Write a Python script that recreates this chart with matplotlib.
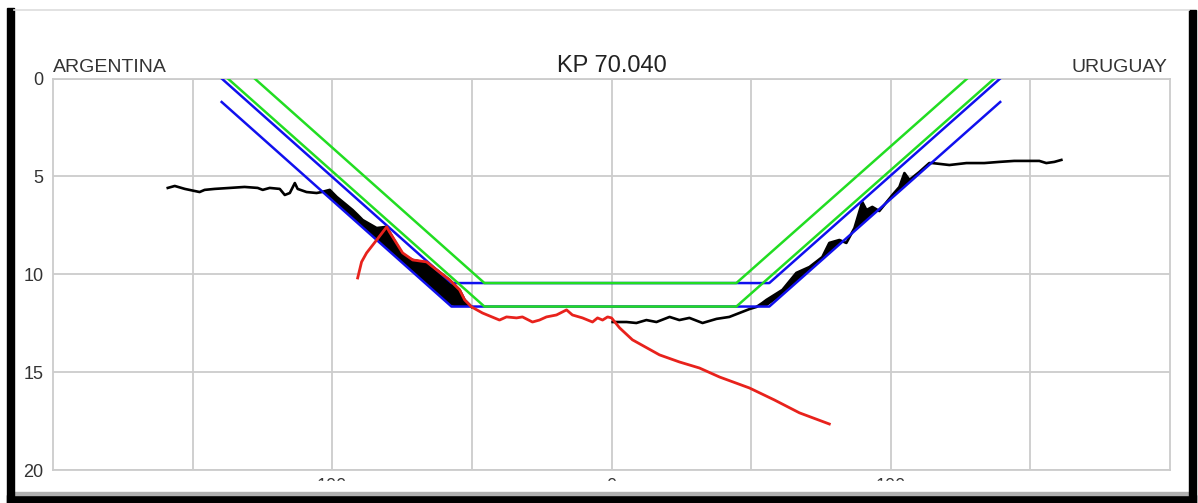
import numpy as np
import matplotlib
matplotlib.use("Agg")
import matplotlib.pyplot as plt
from matplotlib.patches import Rectangle
from matplotlib.lines import Line2D

# design trench lines (offset in m, depth in m)
blue_x = [-139.6, -57.3, 56.5, 139.2]
blue_upper_d = [0.0, 10.45, 10.45, 0.0]
blue_lower_d = [1.2, 11.65, 11.65, 1.2]
green_outer_x = [-137.4, -45.5, 44.7, 137.1]
green_outer_d = [0.0, 11.65, 11.65, 0.0]
green_inner_x = [-127.8, -45.5, 44.7, 127.4]
green_inner_d = [0.0, 10.45, 10.45, 0.0]

# current survey (black), left bank down to trench floor
black_left_x = [-158.9, -156.4, -152.8, -147.5, -145.7, -142.1, -136.7, -131.4, -126.7,
                -124.9, -122.4, -118.8, -117.0, -115.2, -113.4, -112.4, -109.2, -105.6,
                -103.8, -100.9, -98.4, -94.9, -92.7, -90.9, -89.1, -84.1, -80.5, -79.5,
                -74.8, -71.2, -66.2, -62.6, -58.0, -54.4, -52.6, -50.1]
black_left_d = [5.59, 5.49, 5.64, 5.80, 5.69, 5.64, 5.59, 5.54, 5.59,
                5.69, 5.59, 5.64, 5.95, 5.85, 5.34, 5.64, 5.80, 5.85,
                5.80, 5.69, 6.05, 6.46, 6.72, 6.97, 7.23, 7.64, 7.58, 7.84,
                9.01, 9.27, 9.42, 9.78, 10.29, 10.80, 11.31, 11.67]

# current survey (black), trench floor to right bank
black_right_x = [0.4, 5.4, 8.9, 12.5, 16.1, 20.8, 24.3, 27.9, 32.6, 37.6, 42.2, 45.8,
                 49.4, 51.9, 54.0, 55.5, 61.2, 66.2, 70.9, 75.5, 78.0, 81.6, 84.1, 87.0,
                 89.8, 91.3, 93.4, 95.9, 100.6, 103.1, 104.9, 106.7, 110.2, 113.8, 114.9,
                 121.0, 127.1, 133.5, 138.9, 144.2, 149.6, 153.2, 155.7, 158.6, 161.1]
black_right_d = [12.44, 12.44, 12.49, 12.34, 12.44, 12.18, 12.34, 12.23, 12.49, 12.28,
                 12.18, 11.98, 11.78, 11.67, 11.47, 11.31, 10.80, 9.93, 9.63, 9.12, 8.40,
                 8.25, 8.40, 7.64, 6.31, 6.72, 6.56, 6.77, 5.95, 5.54, 4.83, 5.18, 4.78,
                 4.32, 4.32, 4.42, 4.32, 4.32, 4.26, 4.21, 4.21, 4.21, 4.32, 4.26, 4.16]

# previous survey (red)
red_x = [-90.9, -89.5, -87.7, -84.1, -80.5, -79.5, -74.8, -71.2, -66.2, -62.6, -58.0,
         -54.4, -52.6, -50.1, -46.2, -40.1, -37.6, -34.0, -31.9, -28.3, -25.8, -23.3,
         -19.7, -16.1, -14.0, -10.4, -6.8, -5.0, -3.2, -1.4, 0.0, 2.9, 7.5, 17.2, 24.3,
         31.5, 38.7, 49.4, 58.3, 67.3, 78.0]
red_d = [10.19, 9.37, 8.91, 8.25, 7.58, 7.84, 8.91, 9.27, 9.37, 9.78, 10.29,
         10.80, 11.31, 11.67, 11.98, 12.34, 12.18, 12.23, 12.18, 12.44, 12.34, 12.18,
         12.08, 11.82, 12.08, 12.23, 12.44, 12.23, 12.34, 12.18, 12.23, 12.74, 13.35,
         14.12, 14.48, 14.79, 15.25, 15.81, 16.42, 17.08, 17.65]

title = "KP 70.040"
left_label = "ARGENTINA"
right_label = "URUGUAY"
x_ticks = [-150, -100, -50, 0, 50, 100, 150]
x_labelled = [-100, 0, 100]
y_ticks = [0, 5, 10, 15, 20]

W, H = 1198, 503
fig = plt.figure(figsize=(W / 100, H / 100), dpi=100)
fig.patch.set_facecolor("white")
ax = fig.add_axes([53 / W, 1 - 470 / H, (1170 - 53) / W, (470 - 78.5) / H])

ax.set_xlim(-200, 200)
ax.set_ylim(20, 0)

# fill between survey and lower design line on the slopes
for xs, ds in [(black_left_x, black_left_d), (black_right_x, black_right_d)]:
    xs = np.array(xs)
    ds = np.array(ds)
    design = np.interp(xs, blue_x, blue_lower_d)
    ax.fill_between(xs, ds, design, where=ds < design, interpolate=True,
                    color="black", lw=0, zorder=2)
    ax.plot(xs, ds, color="black", lw=1.9, zorder=3)

ax.plot(blue_x, blue_upper_d, color="#1010ee", lw=1.8, zorder=4)
ax.plot(blue_x, blue_lower_d, color="#1010ee", lw=1.8, zorder=4)
ax.plot(green_outer_x, green_outer_d, color="#22dd22", lw=1.8, zorder=5)
ax.plot(green_inner_x, green_inner_d, color="#22dd22", lw=1.8, zorder=5)
ax.plot(red_x, red_d, color="#e8221c", lw=2.0, zorder=6)

ax.set_xticks(x_ticks)
ax.set_xticklabels([str(abs(t)) if t in x_labelled else "" for t in x_ticks])
ax.set_yticks(y_ticks)
ax.grid(True, color="#cccccc", lw=1.3)
ax.set_axisbelow(True)
for s in ax.spines.values():
    s.set_color("#cccccc")
    s.set_linewidth(1.3)
ax.tick_params(length=0, labelcolor="#333333", labelsize=13)
ax.tick_params(axis="y", pad=7)
ax.tick_params(axis="x", pad=6)
for lab in ax.get_yticklabels() + ax.get_xticklabels():
    lab.set_family(["Liberation Sans"])

fig.text(612 / W, 1 - 72 / H, title, ha="center", va="baseline", fontsize=17,
         color="#222222", family=["Liberation Sans"])
fig.text(53 / W, 1 - 72 / H, left_label, ha="left", va="baseline", fontsize=14,
         color="#333333", family=["Liberation Sans"])
fig.text(1167 / W, 1 - 72 / H, right_label, ha="right", va="baseline", fontsize=14,
         color="#333333", family=["Liberation Sans"])

# screenshot frame: hides most of the x tick labels like the original
fig.add_artist(Rectangle((14 / W, 11 / H), (1189 - 14) / W, 11 / H,
                         transform=fig.transFigure, color="white", zorder=10))
fig.add_artist(Rectangle((7 / W, 0), (1196 - 7) / W, 8 / H,
                         transform=fig.transFigure, color="black", zorder=11))
fig.add_artist(Rectangle((14 / W, 8 / H), (1189 - 14) / W, 3 / H,
                         transform=fig.transFigure, color="#b0b0b0", zorder=11))
fig.add_artist(Rectangle((7 / W, 0), 7 / W, 495 / H,
                         transform=fig.transFigure, color="black", zorder=11))
fig.add_artist(Rectangle((1189 / W, 0), 7 / W, 493 / H,
                         transform=fig.transFigure, color="black", zorder=11))
fig.add_artist(Line2D([14 / W, 1189 / W], [1 - 10 / H, 1 - 10 / H],
                      transform=fig.transFigure, color="#dddddd", lw=1.2, zorder=11))

fig.savefig("out.png", dpi=100)
